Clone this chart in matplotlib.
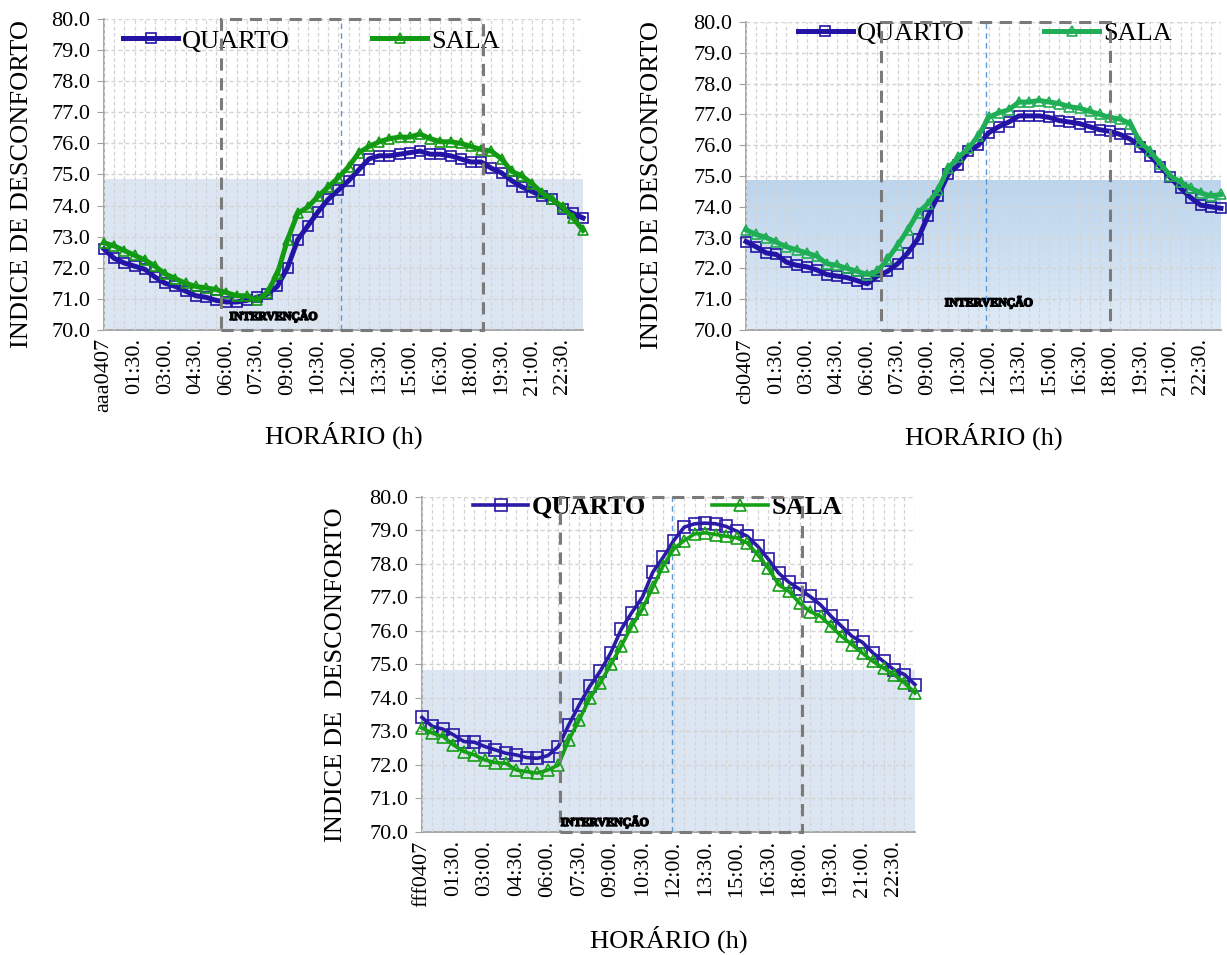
import numpy as np
import matplotlib
matplotlib.use("Agg")
from matplotlib import pyplot as plt
from matplotlib.colors import LinearSegmentedColormap
from matplotlib.patches import Rectangle
import matplotlib.patheffects as pe

plt.rcParams['font.family'] = ['Liberation Serif', 'DejaVu Serif']

# horários (meia em meia hora), rótulos de 3 em 3 pontos
horas = ["01:30.", "03:00.", "04:30.", "06:00.", "07:30.", "09:00.", "10:30.",
         "12:00.", "13:30.", "15:00.", "16:30.", "18:00.", "19:30.", "21:00.", "22:30."]
rotulo_a = ["aaa0407"] + horas
rotulo_b = ["cb0407"] + horas
rotulo_c = ["fff0407"] + horas

# indice de desconforto - dia A
quarto_a = [72.6, 72.3, 72.15, 72.05, 71.95, 71.7, 71.5, 71.4, 71.25, 71.1, 71.05, 70.95,
            70.9, 70.9, 70.95, 71.05, 71.15, 71.4, 72.0, 72.9, 73.35, 73.8, 74.2, 74.5,
            74.8, 75.15, 75.5, 75.6, 75.6, 75.65, 75.7, 75.75, 75.65, 75.65, 75.6, 75.5,
            75.4, 75.4, 75.2, 75.05, 74.8, 74.6, 74.45, 74.3, 74.2, 73.9, 73.75, 73.6]
sala_a = [72.8, 72.7, 72.55, 72.4, 72.25, 72.05, 71.8, 71.65, 71.5, 71.4, 71.35, 71.3,
          71.2, 71.1, 71.1, 70.95, 71.2, 71.8, 72.9, 73.75, 73.95, 74.3, 74.6, 74.9,
          75.25, 75.7, 75.9, 76.05, 76.15, 76.2, 76.2, 76.3, 76.15, 76.05, 76.05, 76.0,
          75.9, 75.8, 75.75, 75.5, 75.1, 74.95, 74.7, 74.4, 74.2, 73.95, 73.6, 73.2]

# dia B
quarto_b = [72.87, 72.7, 72.5, 72.45, 72.2, 72.1, 72.05, 71.95, 71.8, 71.75, 71.7, 71.6,
            71.5, 71.75, 71.9, 72.15, 72.5, 72.95, 73.7, 74.35, 75.05, 75.35, 75.8, 76.0,
            76.4, 76.6, 76.75, 76.95, 76.95, 76.95, 76.9, 76.8, 76.75, 76.7, 76.6, 76.5,
            76.45, 76.35, 76.2, 75.95, 75.65, 75.3, 74.95, 74.6, 74.3, 74.05, 74.0, 73.95]
sala_b = [73.25, 73.1, 73.0, 72.85, 72.7, 72.6, 72.5, 72.4, 72.15, 72.1, 72.0, 71.9,
          71.8, 71.9, 72.3, 72.75, 73.25, 73.8, 74.1, 74.55, 75.25, 75.6, 75.9, 76.3,
          76.9, 77.05, 77.15, 77.4, 77.4, 77.45, 77.4, 77.35, 77.25, 77.2, 77.1, 77.0,
          76.9, 76.85, 76.7, 76.1, 75.8, 75.4, 75.0, 74.8, 74.6, 74.45, 74.35, 74.4]

# dia C
quarto_c = [73.42, 73.15, 73.07, 72.9, 72.7, 72.68, 72.55, 72.45, 72.35, 72.3, 72.22, 72.2,
            72.28, 72.55, 73.2, 73.8, 74.35, 74.8, 75.35, 76.05, 76.55, 77.0, 77.75, 78.2,
            78.7, 79.1, 79.2, 79.22, 79.2, 79.12, 78.98, 78.83, 78.53, 78.15, 77.73, 77.45,
            77.25, 77.03, 76.78, 76.44, 76.14, 75.84, 75.66, 75.34, 75.09, 74.84, 74.7, 74.4]
sala_c = [73.1, 72.95, 72.85, 72.6, 72.4, 72.3, 72.15, 72.07, 72.05, 71.85, 71.8, 71.76,
          71.85, 72.0, 72.75, 73.35, 74.0, 74.45, 75.0, 75.55, 76.15, 76.65, 77.3, 77.95,
          78.45, 78.7, 78.9, 78.93, 78.88, 78.83, 78.78, 78.63, 78.28, 77.88, 77.38, 77.18,
          76.83, 76.58, 76.44, 76.14, 75.84, 75.59, 75.34, 75.09, 74.89, 74.7, 74.45, 74.15]

LIMITE = 74.85   # faixa de conforto (sombreada)

fig = plt.figure(figsize=(12.27, 9.55), dpi=100)


def painel(rect, quarto, sala, rotulos, cor_q, cor_s, lw, ms, interv, linha_azul,
           pos_txt, ylabel, ylabel_x, xlabel_y, leg, gradiente=False, negrito=False):
    ax = fig.add_axes(rect)
    x = np.arange(len(quarto))
    ax.set_xlim(0, len(quarto) - 1)
    ax.set_ylim(70, 80)

    # faixa azul
    if gradiente:
        cmap = LinearSegmentedColormap.from_list("faixa", ["#dfeaf6", "#bcd5ed"])
        ax.imshow(np.linspace(0, 1, 100).reshape(-1, 1), cmap=cmap, origin="lower",
                  extent=[0, len(quarto) - 1, 70, LIMITE], aspect="auto", zorder=0.2)
    else:
        ax.axhspan(70, LIMITE, color="#dce6f2", lw=0, zorder=0.2)

    # grade
    ax.set_axisbelow(False)
    ax.set_xticks(range(0, len(quarto), 3))
    ax.set_xticklabels(rotulos, rotation=90, fontsize=16)
    ax.set_xticks(x, minor=True)
    ax.set_yticks(np.arange(70, 80.5, 1))
    ax.set_yticklabels([f"{v:.1f}" for v in np.arange(70, 80.5, 1)], fontsize=16)
    ax.grid(True, which="both", axis="x", ls=(0, (3, 2)), color="#d4d4d4", lw=0.9, zorder=0.5)
    ax.grid(True, which="major", axis="y", ls=(0, (3, 2)), color="#d4d4d4", lw=1.0, zorder=0.5)
    ax.tick_params(axis="x", which="both", length=0, pad=6)
    ax.tick_params(axis="y", length=5, color="#a0a0a0", pad=5)
    for s in ("top", "right"):
        ax.spines[s].set_visible(False)
    for s in ("left", "bottom"):
        ax.spines[s].set_color("#a0a0a0")
        ax.spines[s].set_linewidth(1.3)

    # séries
    ax.plot(x, quarto, color=cor_q, lw=lw, marker="s", ms=ms, mfc="none",
            mec=cor_q, mew=1.2, label="QUARTO", zorder=4, clip_on=False)
    ax.plot(x, sala, color=cor_s, lw=lw, marker="^", ms=ms, mfc="none",
            mec=cor_s, mew=1.2, label="SALA", zorder=5, clip_on=False)

    # período de intervenção
    ax.add_patch(Rectangle((interv[0], 70), interv[1] - interv[0], 10, fill=False,
                           ls=(0, (4, 2.5)), ec="#7a7a7a", lw=2.2, zorder=6, clip_on=False))
    ax.plot([linha_azul, linha_azul], [70, 80], color="#5b9bd5", lw=1.0,
            ls=(0, (4, 3)), zorder=3)
    ax.text(pos_txt[0], pos_txt[1], "INTERVENÇÃO", fontsize=8.5, fontweight="bold",
            ha="center", va="center", zorder=7,
            path_effects=[pe.withStroke(linewidth=1.1, foreground="black")])

    ax.set_ylabel(ylabel, fontsize=19)
    ax.yaxis.set_label_coords(ylabel_x, 0.47)
    ax.set_xlabel("HORÁRIO (h)", fontsize=19)
    ax.xaxis.set_label_coords(0.5, xlabel_y)

    ax.legend(loc="center", bbox_to_anchor=(leg[0], leg[1]), ncol=2, frameon=False,
              prop={"size": 19, "weight": "bold" if negrito else "normal"},
              handlelength=2.1, handletextpad=0.15, columnspacing=leg[2],
              borderpad=0, borderaxespad=0)
    return ax


painel([0.0848, 0.6545, 0.3904, 0.3257], quarto_a, sala_a, rotulo_a,
       "#2414a6", "#129a12", 3.6, 6.5, (11.5, 37.2), 23.2, (16.6, 70.45),
       "INDICE DE DESCONFORTO", -0.148, -0.296, (0.433, 0.929, 3.1))

painel([0.6080, 0.6545, 0.3871, 0.3225], quarto_b, sala_b, rotulo_b,
       "#2414a6", "#1fae55", 3.6, 6.5, (13.4, 36.0), 23.7, (24.0, 70.9),
       "INDICE DE DESCONFORTO", -0.175, -0.30, (0.503, 0.964, 3.0), gradiente=True)

painel([0.3439, 0.1288, 0.4018, 0.3508], quarto_c, sala_c, rotulo_c,
       "#2a1aa6", "#16a016", 2.6, 8.0, (13.2, 36.2), 23.8, (17.4, 70.3),
       "INDICE DE  DESCONFORTO", -0.152, -0.278, (0.478, 0.97, 2.5), negrito=True)

fig.savefig("out.png", dpi=100)
